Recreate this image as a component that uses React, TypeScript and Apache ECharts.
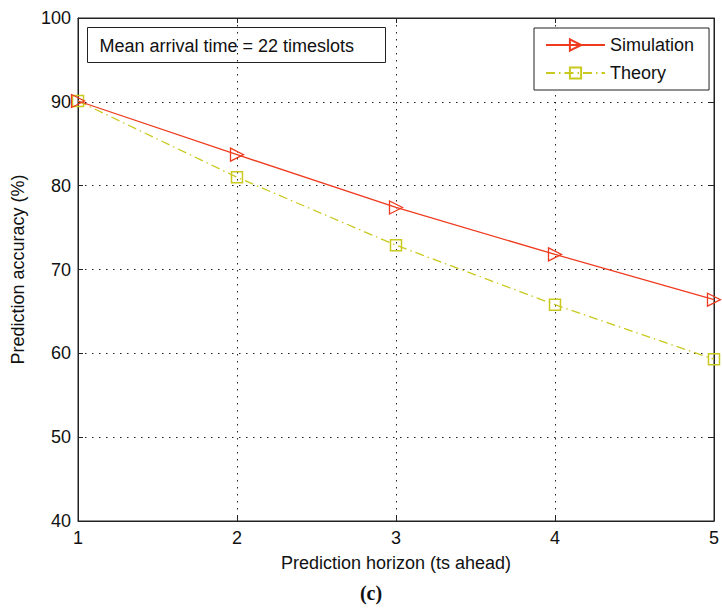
import React, { useEffect, useRef } from "react";
import * as echarts from "echarts";

const horizons = [1, 2, 3, 4, 5];
const simulation = [90.1, 83.7, 77.4, 71.8, 66.4];
const theory = [90.1, 81.0, 72.9, 65.8, 59.3];
const xTicks = [1, 2, 3, 4, 5];
const yTicks = [40, 50, 60, 70, 80, 90, 100];

const RED = "#ee3b1f";
const YEL = "#c9c920";
const FONT = "Liberation Sans, Arial, sans-serif";

export default function App() {
  const ref = useRef<HTMLDivElement>(null);
  useEffect(() => {
    const chart = echarts.init(ref.current!, undefined, { renderer: "svg" });
    const grid = { left: 78, right: 5, top: 18, bottom: 87 };
    const gridDash = [1.5, 5.5];
    chart.setOption({
      animation: false,
      backgroundColor: "#fff",
      title: {
        text: "(c)",
        left: 366,
        top: 578,
        textAlign: "center",
        textStyle: { fontFamily: "Liberation Serif, Times New Roman, serif", fontWeight: "bold", fontSize: 20, color: "#111" },
      },
      grid: { ...grid, show: true, borderColor: "#222", borderWidth: 1, backgroundColor: "#fff" },
      legend: {
        orient: "vertical",
        left: 534,
        top: 28,
        backgroundColor: "#fff",
        borderColor: "#222",
        borderWidth: 1,
        borderRadius: 0,
        padding: [8, 15, 8, 11],
        itemWidth: 59,
        itemHeight: 14,
        itemGap: 10,
        textStyle: { fontFamily: FONT, fontSize: 18, lineHeight: 18, color: "#111" },
        data: ["Simulation", "Theory"],
      },
      xAxis: [
        {
          type: "value",
          min: 1,
          max: 5,
          interval: 1,
          name: "Prediction horizon (ts ahead)",
          nameLocation: "middle",
          nameGap: 33,
          nameTextStyle: { fontFamily: FONT, fontSize: 18, color: "#111" },
          axisLine: { show: true, lineStyle: { color: "#222" } },
          axisTick: { show: true, inside: true, length: 5, lineStyle: { color: "#222" } },
          axisLabel: { fontFamily: FONT, fontSize: 18, color: "#111", margin: 8, formatter: (v: number) => (xTicks.includes(v) ? String(v) : "") },
          splitLine: { show: true, lineStyle: { color: "#222", type: gridDash, width: 1 } },
        },
        {
          type: "value",
          min: 1,
          max: 5,
          interval: 1,
          position: "top",
          axisLine: { show: true, lineStyle: { color: "#222" } },
          axisTick: { show: true, inside: true, length: 5, lineStyle: { color: "#222" } },
          axisLabel: { show: false },
          splitLine: { show: false },
        },
      ],
      yAxis: [
        {
          type: "value",
          min: 40,
          max: 100,
          interval: 10,
          name: "Prediction accuracy (%)",
          nameLocation: "middle",
          nameGap: 51,
          nameTextStyle: { fontFamily: FONT, fontSize: 18, color: "#111" },
          axisLine: { show: true, lineStyle: { color: "#222" } },
          axisTick: { show: true, inside: true, length: 5, lineStyle: { color: "#222" } },
          axisLabel: { fontFamily: FONT, fontSize: 18, color: "#111", margin: 7, formatter: (v: number) => (yTicks.includes(v) ? String(v) : "") },
          splitLine: { show: true, lineStyle: { color: "#222", type: gridDash, width: 1 } },
        },
        {
          type: "value",
          min: 40,
          max: 100,
          interval: 10,
          position: "right",
          axisLine: { show: true, lineStyle: { color: "#222" } },
          axisTick: { show: true, inside: true, length: 5, lineStyle: { color: "#222" } },
          axisLabel: { show: false },
          splitLine: { show: false },
        },
      ],
      graphic: [
        {
          type: "group",
          left: 87,
          top: 27,
          z: 100,
          children: [
            { type: "rect", shape: { x: 0, y: 0, width: 298, height: 35 }, style: { fill: "#fff", stroke: "#222", lineWidth: 1 } },
            {
              type: "text",
              x: 12,
              y: 18,
              style: { text: "Mean arrival time = 22 timeslots", fill: "#111", font: `18px ${FONT}`, verticalAlign: "middle" },
            },
          ],
        },
      ],
      series: [
        {
          name: "Simulation",
          type: "line",
          data: horizons.map((h, i) => [h, simulation[i]]),
          symbol: "triangle",
          symbolRotate: -90,
          symbolSize: 13,
          showAllSymbol: true,
          clip: false,
          lineStyle: { color: RED, width: 1.3 },
          itemStyle: { color: "rgba(255,255,255,0)", borderColor: RED, borderWidth: 1.3 },
          z: 3,
        },
        {
          name: "Theory",
          type: "line",
          data: horizons.map((h, i) => [h, theory[i]]),
          symbol: "rect",
          symbolSize: 11,
          showAllSymbol: true,
          clip: false,
          lineStyle: { color: YEL, width: 1.3, type: [9, 4, 1.5, 4] },
          itemStyle: { color: "rgba(255,255,255,0)", borderColor: YEL, borderWidth: 1.5 },
          z: 2,
        },
      ],
    });
    return () => chart.dispose();
  }, []);
  return <div ref={ref} style={{ width: 722, height: 608, position: "absolute", left: 0, top: 0 }} />;
}
